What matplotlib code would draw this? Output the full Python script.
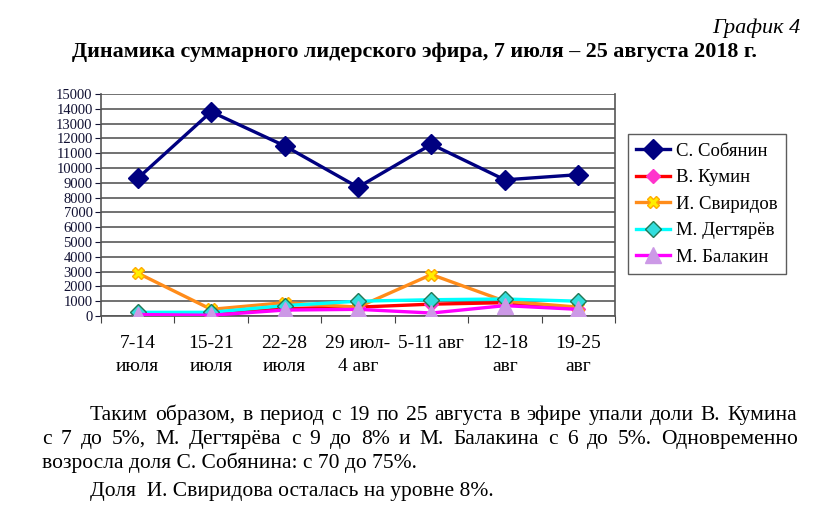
import matplotlib
matplotlib.use('Agg')
import matplotlib.pyplot as plt

plt.rcParams['font.family'] = ['Liberation Serif', 'DejaVu Serif']

weeks = ['7-14\nиюля', '15-21\nиюля', '22-28\nиюля', '29 июл-\n4 авг',
         '5-11 авг\n', '12-18\nавг', '19-25\nавг']
sobyanin = [9300, 13800, 11500, 8700, 11600, 9200, 9550]
kumin = [200, 100, 500, 600, 800, 900, 500]
sviridov = [2900, 450, 900, 600, 2800, 1000, 600]
degtyarev = [250, 250, 700, 1000, 1100, 1150, 1000]
balakin = [100, 50, 400, 450, 200, 700, 450]

series = [
    ('С. Собянин', sobyanin, '#000080', 'D', '#000080', '#000080', 10),
    ('В. Кумин', kumin, '#ff0000', 'D', '#ff33cc', '#ff33cc', 7),
    ('И. Свиридов', sviridov, '#ff8c1a', 'X', '#ffee00', '#ffaa00', 8),
    ('М. Дегтярёв', degtyarev, '#00ffff', 'D', '#33dddd', '#227755', 8),
    ('М. Балакин', balakin, '#ff00ff', '^', '#cc99e6', '#cc99e6', 11),
]

W, H = 840, 522
fig = plt.figure(figsize=(8.4, 5.22), dpi=100)
ax = fig.add_axes([101 / W, 1 - 316 / H, 514 / W, 222 / H])

x = list(range(len(weeks)))
for name, vals, color, marker, mfc, mec, ms in series:
    ax.plot(x, vals, color=color, lw=2.4, marker=marker, markersize=ms,
            markerfacecolor=mfc, markeredgecolor=mec, label=name, zorder=3)

ax.set_xlim(-0.5, len(weeks) - 0.5)
ax.set_ylim(0, 15000)
ax.set_yticks(range(0, 15001, 1000))
ax.tick_params(axis='y', labelsize=10.5, length=4, colors='#111133', pad=2)
ax.yaxis.grid(True, color='#666666', lw=1.3)
ax.set_axisbelow(True)

ax.set_xticks([i - 0.5 for i in range(len(weeks) + 1)])
ax.set_xticklabels([])
ax.set_xticks(x, minor=True)
ax.set_xticklabels(weeks, minor=True, fontsize=14, linespacing=1.45)
ax.tick_params(axis='x', which='minor', length=0, pad=14)
ax.tick_params(axis='x', which='major', length=5, color='#444444')

ax.spines['top'].set_visible(False)
for side in ['left', 'bottom', 'right']:
    ax.spines[side].set_color('#555555')
    ax.spines[side].set_linewidth(1.2)

leg = ax.legend(loc='upper left', bbox_to_anchor=(628 / W, 1 - 134 / H),
                bbox_transform=fig.transFigure, fontsize=13.5,
                frameon=True, fancybox=False, edgecolor='#333333',
                handlelength=1.8, borderpad=0.45, labelspacing=0.5,
                handletextpad=0.3, borderaxespad=0)
leg.get_frame().set_linewidth(1.0)

fig.text(800 / W, 1 - 33 / H, 'График 4', ha='right', fontsize=16, style='italic')
fig.text(415 / W, 1 - 57 / H, 'Динамика суммарного лидерского эфира, 7 июля – 25 августа 2018 г.',
         ha='center', fontsize=15.8, weight='bold')

# paragraph below the chart, justified lines placed word by word
renderer = fig.canvas.get_renderer()
fs = 15.5


def justify(txt, x0, x1, y):
    words = txt.split()
    texts = [fig.text(0, 1 - y / H, w, fontsize=fs) for w in words]
    widths = [t.get_window_extent(renderer).width for t in texts]
    gap = (x1 - x0 - sum(widths)) / (len(words) - 1)
    pos = x0
    for t, w in zip(texts, widths):
        t.set_x(pos / W)
        pos += w + gap


justify('Таким образом, в период с 19 по 25 августа в эфире упали доли В. Кумина', 90, 797, 420)
justify('с 7 до 5%, М. Дегтярёва с 9 до 8% и М. Балакина с 6 до 5%. Одновременно', 42, 798, 444)
fig.text(42 / W, 1 - 468 / H, 'возросла доля С. Собянина: с 70 до 75%.', fontsize=fs)
fig.text(90 / W, 1 - 496 / H, 'Доля  И. Свиридова осталась на уровне 8%.', fontsize=fs)

fig.savefig('out.png', dpi=100)
